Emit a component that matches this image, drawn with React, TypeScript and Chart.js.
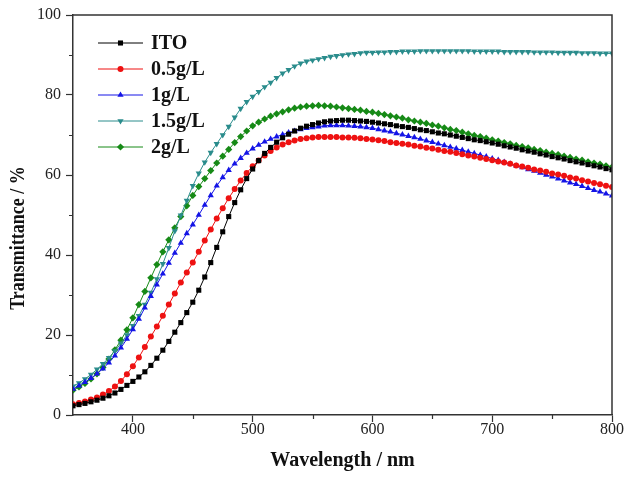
import React, { useEffect, useRef } from 'react';
import { Chart, registerables } from 'chart.js';
import { drawPoint } from 'chart.js/helpers';

Chart.register(...registerables);

const WAVELENGTHS = [
  350, 355, 360, 365, 370, 375, 380, 385, 390, 395,
  400, 405, 410, 415, 420, 425, 430, 435, 440, 445,
  450, 455, 460, 465, 470, 475, 480, 485, 490, 495,
  500, 505, 510, 515, 520, 525, 530, 535, 540, 545,
  550, 555, 560, 565, 570, 575, 580, 585, 590, 595,
  600, 605, 610, 615, 620, 625, 630, 635, 640, 645,
  650, 655, 660, 665, 670, 675, 680, 685, 690, 695,
  700, 705, 710, 715, 720, 725, 730, 735, 740, 745,
  750, 755, 760, 765, 770, 775, 780, 785, 790, 795,
  800,
];

const ITO = [
  2.3, 2.6, 2.9, 3.3, 3.7, 4.2, 4.8, 5.5, 6.4, 7.4,
  8.4, 9.5, 10.8, 12.4, 14.2, 16.2, 18.4, 20.7, 23.1, 25.6,
  28.2, 31.2, 34.5, 38.1, 41.9, 45.8, 49.6, 53.1, 56.3, 59.1,
  61.5, 63.6, 65.4, 66.9, 68.2, 69.3, 70.2, 71.0, 71.7, 72.2,
  72.6, 73.0, 73.3, 73.5, 73.6, 73.7, 73.7, 73.6, 73.5, 73.4,
  73.2, 73.0, 72.8, 72.6, 72.3, 72.1, 71.9, 71.6, 71.3, 71.1,
  70.8, 70.5, 70.3, 70.0, 69.7, 69.4, 69.1, 68.8, 68.6, 68.3,
  68.0, 67.7, 67.3, 67.0, 66.7, 66.3, 66.0, 65.7, 65.3, 65.0,
  64.6, 64.3, 64.0, 63.6, 63.3, 63.0, 62.6, 62.3, 62.0, 61.6,
  61.3,
];

const G05 = [
  2.7, 3.0, 3.4, 3.9, 4.4, 5.1, 6.0, 7.1, 8.5, 10.2,
  12.2, 14.4, 17.0, 19.6, 22.1, 24.8, 27.6, 30.4, 33.1, 35.6,
  38.1, 40.8, 43.6, 46.4, 49.1, 51.7, 54.2, 56.5, 58.6, 60.5,
  62.2, 63.6, 64.9, 66.0, 66.9, 67.6, 68.2, 68.6, 69.0, 69.2,
  69.4, 69.5, 69.5, 69.5, 69.5, 69.4, 69.4, 69.3, 69.2, 69.0,
  68.9, 68.7, 68.5, 68.2, 68.0, 67.8, 67.6, 67.3, 67.1, 66.8,
  66.6, 66.3, 66.0, 65.8, 65.5, 65.2, 64.9, 64.6, 64.3, 64.0,
  63.7, 63.4, 63.1, 62.8, 62.4, 62.1, 61.8, 61.4, 61.1, 60.8,
  60.4, 60.1, 59.8, 59.4, 59.1, 58.7, 58.4, 58.0, 57.7, 57.3,
  57.0,
];

const G1 = [
  6.5, 7.3, 8.2, 9.2, 10.3, 11.6, 13.1, 14.8, 16.8, 19.0,
  21.4, 24.0, 26.8, 29.7, 32.6, 35.3, 38.0, 40.5, 43.0, 45.4,
  47.6, 50.0, 52.5, 54.9, 57.3, 59.4, 61.2, 62.8, 64.2, 65.5,
  66.6, 67.5, 68.3, 69.0, 69.6, 70.1, 70.6, 71.0, 71.4, 71.7,
  71.9, 72.1, 72.3, 72.4, 72.4, 72.4, 72.3, 72.2, 72.1, 71.9,
  71.7, 71.4, 71.1, 70.8, 70.4, 70.1, 69.7, 69.4, 69.0, 68.6,
  68.2, 67.8, 67.4, 67.0, 66.6, 66.2, 65.8, 65.4, 65.0, 64.6,
  64.1, 63.7, 63.2, 62.8, 62.3, 61.9, 61.4, 61.0, 60.5, 60.0,
  59.6, 59.1, 58.6, 58.1, 57.7, 57.2, 56.7, 56.2, 55.8, 55.3,
  54.8,
];

const G15 = [
  7.2, 8.0, 9.0, 10.1, 11.4, 12.8, 14.3, 16.0, 17.9, 20.0,
  22.3, 24.8, 27.6, 30.6, 34.0, 37.8, 41.8, 46.0, 49.9, 53.6,
  57.3, 60.4, 63.2, 65.6, 67.8, 70.0, 72.1, 74.4, 76.6, 78.3,
  79.6, 80.8, 82.0, 83.1, 84.3, 85.4, 86.3, 87.2, 87.9, 88.4,
  88.7, 89.0, 89.3, 89.6, 89.8, 90.0, 90.2, 90.3, 90.5, 90.6,
  90.6, 90.7, 90.7, 90.8, 90.8, 90.9, 90.9, 90.9, 91.0, 91.0,
  91.0, 91.0, 91.0, 91.0, 91.0, 91.0, 91.0, 90.9, 90.9, 90.9,
  90.9, 90.9, 90.8, 90.8, 90.8, 90.8, 90.8, 90.7, 90.7, 90.7,
  90.7, 90.6, 90.6, 90.6, 90.6, 90.5, 90.5, 90.5, 90.4, 90.4,
  90.4,
];

const G2 = [
  6.2, 7.0, 7.9, 9.0, 10.3, 11.9, 14.0, 16.3, 18.7, 21.3,
  24.3, 27.6, 30.9, 34.3, 37.6, 40.8, 43.8, 46.8, 49.6, 52.3,
  54.9, 57.1, 59.1, 61.1, 63.0, 64.7, 66.4, 68.1, 69.6, 71.0,
  72.3, 73.2, 74.0, 74.7, 75.3, 75.8, 76.3, 76.7, 77.0, 77.2,
  77.3, 77.4, 77.3, 77.2, 77.0, 76.8, 76.6, 76.4, 76.2, 75.9,
  75.7, 75.4, 75.1, 74.8, 74.5, 74.2, 73.8, 73.5, 73.2, 72.9,
  72.5, 72.2, 71.8, 71.4, 71.1, 70.7, 70.3, 69.9, 69.6, 69.2,
  68.8, 68.5, 68.1, 67.8, 67.4, 67.1, 66.8, 66.4, 66.1, 65.7,
  65.4, 65.1, 64.7, 64.4, 64.0, 63.7, 63.3, 63.0, 62.7, 62.3,
  62.0,
];

const SERIES_LABELS = ['ITO', '0.5g/L', '1g/L', '1.5g/L', '2g/L'];
const SERIES_VALUES = [ITO, G05, G1, G15, G2];
const SERIES_COLORS = ['#000000', '#ee1111', '#1414e6', '#2a8c8c', '#168a16'];
const SERIES_STYLES = ['rect', 'circle', 'triangle', 'triangle', 'rectRot'];
const SERIES_ROTATION = [0, 0, 0, 180, 0];
const SERIES_RADIUS = [3.6, 3, 3.6, 3.6, 3.6];

const X_TICKS = [400, 500, 600, 700, 800];
const X_MINOR = [450, 550, 650, 750];
const Y_TICKS = [0, 20, 40, 60, 80, 100];
const Y_MINOR = [10, 30, 50, 70, 90];

const X_TITLE = 'Wavelength / nm';
const Y_TITLE = 'Transmittance / %';

const FONT = "'Liberation Serif', 'Times New Roman', serif";

const decorPlugin = {
  id: 'decor',
  afterDraw(chart: any) {
    const { ctx, chartArea } = chart;
    const { left, right, top, bottom } = chartArea;
    const xs = chart.scales.x;
    const ys = chart.scales.y;
    ctx.save();
    // frame top/right
    ctx.strokeStyle = '#333';
    ctx.lineWidth = 1.5;
    ctx.beginPath();
    ctx.moveTo(left, top);
    ctx.lineTo(right, top);
    ctx.lineTo(right, bottom);
    ctx.stroke();
    // minor ticks
    ctx.lineWidth = 1.2;
    ctx.beginPath();
    X_MINOR.forEach((v) => {
      const px = Math.round(xs.getPixelForValue(v)) + 0.5;
      ctx.moveTo(px, bottom);
      ctx.lineTo(px, bottom + 4);
    });
    Y_MINOR.forEach((v) => {
      const py = Math.round(ys.getPixelForValue(v)) + 0.5;
      ctx.moveTo(left, py);
      ctx.lineTo(left - 4, py);
    });
    ctx.stroke();
    // y-axis title
    ctx.save();
    ctx.translate(19, (top + bottom) / 2 + 23);
    ctx.rotate(-Math.PI / 2);
    ctx.scale(0.9, 1);
    ctx.fillStyle = '#111';
    ctx.font = `bold 20px ${FONT}`;
    ctx.textAlign = 'center';
    ctx.textBaseline = 'middle';
    ctx.fillText(Y_TITLE, 0, 0);
    ctx.restore();
    // legend
    chart.data.datasets.forEach((ds: any, i: number) => {
      const cy = top + 28 + i * 26;
      const x0 = left + 25;
      const x1 = left + 70;
      ctx.strokeStyle = ds.borderColor;
      ctx.lineWidth = 1;
      ctx.beginPath();
      ctx.moveTo(x0, cy);
      ctx.lineTo(x1, cy);
      ctx.stroke();
      ctx.fillStyle = ds.pointBackgroundColor;
      ctx.strokeStyle = ds.pointBorderColor;
      drawPoint(ctx, {
        pointStyle: ds.pointStyle,
        rotation: ds.pointRotation,
        radius: ds.pointRadius,
        borderWidth: 0,
      }, (x0 + x1) / 2, cy);
      ctx.fillStyle = '#111';
      ctx.font = `bold 20px ${FONT}`;
      ctx.textAlign = 'left';
      ctx.textBaseline = 'middle';
      ctx.fillText(ds.label, left + 78, cy + 1);
    });
    ctx.restore();
  },
};

export default function App() {
  const canvasRef = useRef<HTMLCanvasElement | null>(null);

  useEffect(() => {
    document.body.style.margin = '0';
    const canvas = canvasRef.current;
    if (!canvas) return;
    const datasets = SERIES_LABELS.map((label, i) => ({
      label,
      data: WAVELENGTHS.map((x, j) => ({ x, y: SERIES_VALUES[i][j] })),
      borderColor: SERIES_COLORS[i],
      backgroundColor: SERIES_COLORS[i],
      pointBackgroundColor: SERIES_COLORS[i],
      pointBorderColor: SERIES_COLORS[i],
      pointBorderWidth: 0,
      pointStyle: SERIES_STYLES[i],
      pointRotation: SERIES_ROTATION[i],
      pointRadius: SERIES_RADIUS[i],
      borderWidth: 1,
      tension: 0,
      fill: false,
    }));
    const chart = new Chart(canvas, {
      type: 'line',
      data: { datasets },
      options: {
        responsive: false,
        animation: false,
        devicePixelRatio: 1,
        layout: { padding: { top: 15, right: 13, left: 0, bottom: 0 } },
        plugins: {
          legend: { display: false },
          tooltip: { enabled: false },
        },
        scales: {
          x: {
            type: 'linear',
            min: 350,
            max: 800,
            afterBuildTicks: (s: any) => {
              s.ticks = X_TICKS.map((v) => ({ value: v }));
            },
            afterFit: (s: any) => {
              s.height = 62;
            },
            border: { display: true, color: '#333', width: 1.5 },
            grid: { drawOnChartArea: false, drawTicks: true, tickLength: 7, color: '#333', tickWidth: 1.2 },
            ticks: {
              font: { family: FONT, size: 16, lineHeight: 1 },
              color: '#222',
              padding: 0,
              maxRotation: 0,
              autoSkip: false,
            },
            title: {
              display: true,
              text: X_TITLE,
              font: { family: FONT, size: 20, weight: 'bold', lineHeight: 1.2 },
              color: '#111',
              padding: { top: 0, bottom: 4 },
            },
          },
          y: {
            type: 'linear',
            min: 0,
            max: 100,
            afterBuildTicks: (s: any) => {
              s.ticks = Y_TICKS.map((v) => ({ value: v }));
            },
            afterFit: (s: any) => {
              s.width = 73;
            },
            border: { display: true, color: '#333', width: 1.5 },
            grid: { drawOnChartArea: false, drawTicks: true, tickLength: 7, color: '#333', tickWidth: 1.2 },
            ticks: {
              font: { family: FONT, size: 16, lineHeight: 1 },
              color: '#222',
              padding: 5,
              autoSkip: false,
            },
            title: { display: false, text: Y_TITLE },
          },
        },
      },
      plugins: [decorPlugin],
    } as any);
    return () => chart.destroy();
  }, []);

  return (
    <div style={{ width: 625, height: 477, position: 'relative' }}>
      <canvas ref={canvasRef} width={625} height={477} />
    </div>
  );
}
